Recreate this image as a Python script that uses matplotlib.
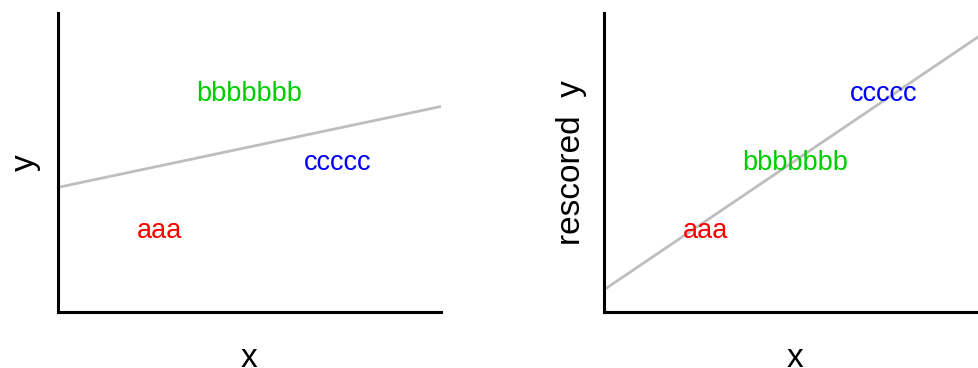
"""Text labels placed at (x, y) with a reference line, raw vs rescored y."""

import matplotlib

matplotlib.use("Agg")
import matplotlib.pyplot as plt
import numpy as np

# Data
labels = ["aaa", "bbbbbbb", "ccccc"]
label_colors = ["#ff0000", "#00cd00", "#0000ff"]
x_vals = [1, 2, 3]
y_raw = [1, 3, 2]
y_rescored = [1, 2, 3]

# reference lines (intercept, slope)
line_raw = (1.68, 0.275)
line_rescored = (0.27, 0.88)

XLIM = (-0.144, 4.156)
YLIM = (-0.183, 4.19)

plt.rcParams["font.family"] = ["Liberation Sans", "DejaVu Sans"]


def draw_panel(ax, y_vals, line, ylabel):
    for lab, col, xv, yv in zip(labels, label_colors, x_vals, y_vals):
        ax.text(xv, yv, lab, color=col, fontsize=19.5, ha="center", va="center")

    xs = np.array(XLIM)
    ax.plot(xs, line[0] + line[1] * xs, color="#bebebe", linewidth=2.0, zorder=1)

    ax.set_xlim(*XLIM)
    ax.set_ylim(*YLIM)
    ax.set_xticks([])
    ax.set_yticks([])
    for side in ("top", "right"):
        ax.spines[side].set_visible(False)
    for side in ("left", "bottom"):
        ax.spines[side].set_linewidth(2.2)
        ax.spines[side].set_color("black")
    ax.set_xlabel("x", fontsize=24, labelpad=22)
    ax.set_ylabel(ylabel, fontsize=24, labelpad=12)


fig = plt.figure(figsize=(9.79, 3.68), dpi=100)
ax1 = fig.add_axes([0.0592, 0.152, 0.391, 0.8125])
ax2 = fig.add_axes([0.617, 0.152, 0.391, 0.8125])

draw_panel(ax1, y_raw, line_raw, "y")
draw_panel(ax2, y_rescored, line_rescored, "rescored  y")

fig.savefig("out.png", dpi=100, facecolor="white")
plt.close(fig)
